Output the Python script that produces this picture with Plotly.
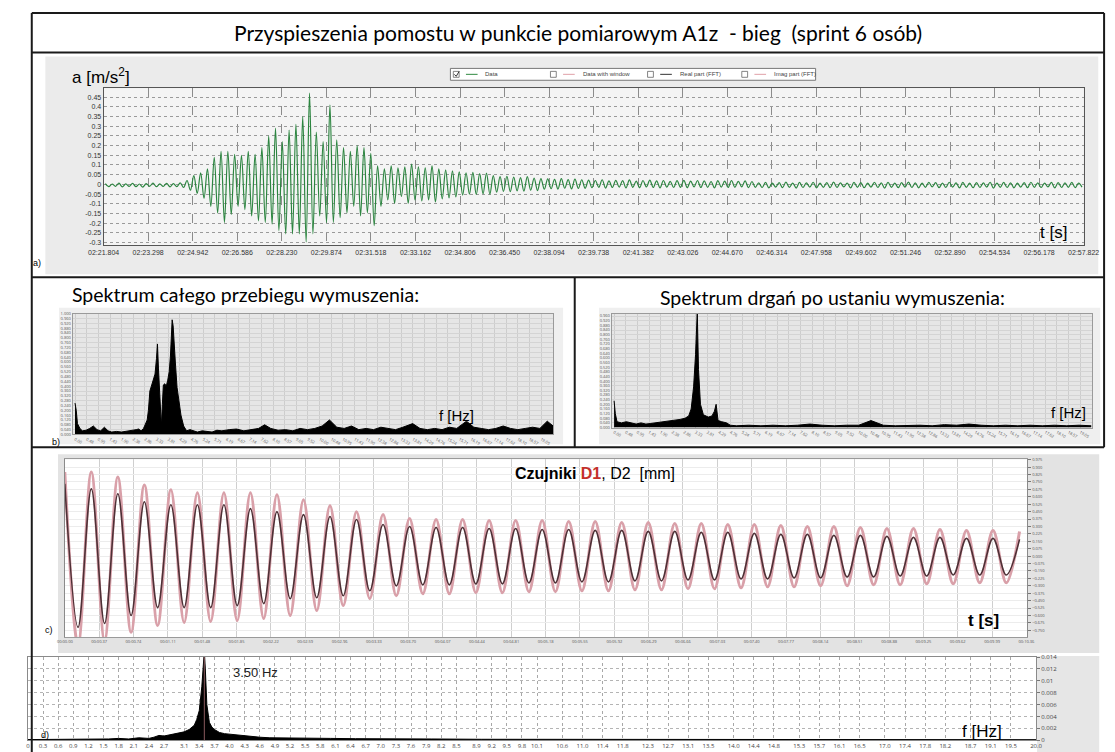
import plotly.graph_objects as go

W, H = 1115, 752
def px(x): return x / W
def py(y): return 1 - y / H

TITLE = "Przyspieszenia pomostu w punkcie pomiarowym A1z  - bieg  (sprint 6 osób)"
TITLE_B1 = "Spektrum całego przebiegu wymuszenia:"
TITLE_B2 = "Spektrum drgań po ustaniu wymuszenia:"

# ---------------- panel a: acceleration (per-cycle extremes)
a_tick_labels = ["02:21.804", "02:23.298", "02:24.942", "02:26.586", "02:28.230", "02:29.874",
                 "02:31.518", "02:33.162", "02:34.806", "02:36.450", "02:38.094", "02:39.738",
                 "02:41.382", "02:43.026", "02:44.670", "02:46.314", "02:47.958", "02:49.602",
                 "02:51.246", "02:52.890", "02:54.534", "02:56.178", "02:57.822"]
a_tick_step = 1.644
a_yticks = [0.45, 0.4, 0.35, 0.3, 0.25, 0.2, 0.15, 0.1, 0.05, 0, -0.05, -0.1, -0.15, -0.2, -0.25, -0.3]
a_ytick_text = ["0.45", "0.4", "0.35", "0.3", "0.25", "0.2", "0.15", "0.1", "0.05", "0",
                "-0.05", "-0.1", "-0.15", "-0.2", "-0.25", "-0.3"]
a_pos = [0.004, 0.002, 0.006, 0.003, 0.005, 0.002, 0.004, 0.006, 0.003, 0.005, 0.004, 0.008, 0.02,
         0.045, 0.06, 0.08, 0.14, 0.17, 0.17, 0.155, 0.15, 0.17, 0.155, 0.19, 0.25, 0.29, 0.22,
         0.28, 0.31, 0.35, 0.47, 0.27, 0.22, 0.41, 0.23, 0.19, 0.17, 0.2, 0.19, 0.16, 0.095, 0.08,
         0.095, 0.085, 0.09, 0.105,
         0.09, 0.085, 0.095, 0.08, 0.075, 0.07, 0.065, 0.06, 0.062, 0.055, 0.058,
         0.045, 0.04, 0.042, 0.038, 0.035, 0.04, 0.032,
         0.03, 0.028, 0.026, 0.03, 0.025, 0.027, 0.024,
         0.022, 0.02, 0.024, 0.018, 0.021, 0.019, 0.023, 0.017, 0.02, 0.022, 0.018, 0.02, 0.016,
         0.019, 0.021, 0.017, 0.02, 0.018, 0.015, 0.019, 0.017, 0.02, 0.016, 0.018, 0.015,
         0.008, 0.01, 0.006, 0.009, 0.012, 0.007, 0.01, 0.008, 0.011, 0.006, 0.009, 0.012,
         0.008, 0.007, 0.01, 0.009, 0.006, 0.011, 0.008, 0.01, 0.007, 0.009, 0.012, 0.008,
         0.006, 0.01, 0.009, 0.007, 0.011, 0.008, 0.01, 0.006, 0.009, 0.008, 0.011, 0.007,
         0.01, 0.008, 0.006, 0.009, 0.011, 0.008, 0.007, 0.01, 0.009, 0.008, 0.01, 0.007]
a_neg = [-0.012, -0.01, -0.013, -0.011, -0.012, -0.014, -0.01, -0.012, -0.011, -0.013, -0.012, -0.016, -0.03,
         -0.047, -0.072, -0.113, -0.147, -0.197, -0.155, -0.113, -0.13, -0.163, -0.188, -0.197,
         -0.205, -0.238, -0.255, -0.255, -0.255, -0.297, -0.255, -0.163, -0.197, -0.197, -0.172,
         -0.147, -0.113, -0.163, -0.147, -0.213, -0.113, -0.08, -0.097, -0.063, -0.097, -0.08,
         -0.085, -0.08, -0.09, -0.075, -0.07, -0.065, -0.055, -0.05, -0.052, -0.048, -0.05,
         -0.04, -0.036, -0.038, -0.033, -0.035, -0.03, -0.032,
         -0.025, -0.022, -0.024, -0.02, -0.023, -0.021, -0.02,
         -0.017, -0.015, -0.019, -0.016, -0.014, -0.018, -0.015, -0.017, -0.013, -0.016, -0.018,
         -0.014, -0.016, -0.015, -0.017, -0.013, -0.016, -0.015, -0.018, -0.014, -0.016, -0.015,
         -0.013, -0.017, -0.015,
         -0.016, -0.018, -0.014, -0.017, -0.015, -0.019, -0.016, -0.014, -0.018, -0.015, -0.017,
         -0.016, -0.013, -0.018, -0.015, -0.017, -0.014, -0.016, -0.019, -0.015, -0.017, -0.014,
         -0.016, -0.018, -0.015, -0.013, -0.017, -0.016, -0.014, -0.018, -0.015, -0.017, -0.016,
         -0.014, -0.019, -0.015, -0.016, -0.018, -0.014, -0.017, -0.015, -0.016, -0.013, -0.018,
         -0.016, -0.015, -0.017, -0.014]

# ---------------- panel b: spectra (relative amplitude)
b_tick_labels = ["0.00", "0.48", "0.95", "1.43", "1.90", "2.38", "2.86", "3.33", "3.81", "4.29",
                 "4.76", "5.24", "5.71", "6.19", "6.67", "7.14", "7.62", "8.10", "8.57", "9.05",
                 "9.52", "10.00", "10.48", "10.95", "11.43", "11.90", "12.38", "12.86", "13.33",
                 "13.81", "14.29", "14.76", "15.24", "15.71", "16.19", "16.67", "17.14", "17.62",
                 "18.10", "18.57", "19.05"]
b1_freq = [0, 0.05, 0.1, 0.2, 0.3, 0.45, 0.6, 0.75, 0.9, 1.05,
           1.2, 1.35, 1.5, 1.7, 1.9, 2.1, 2.3, 2.5, 2.6, 2.7,
           2.8, 2.9, 2.95, 3.0, 3.06, 3.12, 3.17, 3.22, 3.27, 3.33,
           3.37, 3.41, 3.45, 3.5, 3.53, 3.57, 3.61, 3.67, 3.73, 3.79,
           3.85, 3.9, 3.93, 3.97, 4.01, 4.05, 4.1, 4.17, 4.25, 4.33,
           4.44, 4.56, 4.7, 4.85, 5.0, 5.2, 5.4, 5.6, 5.8, 6.0,
           6.3, 6.6, 6.9, 7.2, 7.5, 7.75, 8.0, 8.3, 8.6, 8.9,
           9.2, 9.5, 9.8, 10.1, 10.4, 10.7, 11.0, 11.3, 11.6, 11.9,
           12.2, 12.5, 12.8, 13.1, 13.4, 13.8, 14.1, 14.4, 14.7, 15.0,
           15.3, 15.6, 16.0, 16.3, 16.6, 16.9, 17.2, 17.5, 17.8, 18.1,
           18.4, 18.7, 19.0, 19.3, 19.6]
b1_amp = [0.26, 0.20, 0.09, 0.05, 0.03, 0.035, 0.05, 0.07, 0.04, 0.03,
          0.06, 0.03, 0.02, 0.025, 0.02, 0.025, 0.03, 0.04, 0.045, 0.03,
          0.05, 0.09, 0.12, 0.20, 0.36, 0.40, 0.44, 0.46, 0.50, 0.63,
          0.75, 0.55, 0.40, 0.15, 0.07, 0.25, 0.41, 0.42, 0.40, 0.45,
          0.52, 0.65, 0.76, 0.95, 0.90, 0.80, 0.60, 0.39, 0.25, 0.16,
          0.07, 0.03, 0.04, 0.03, 0.02, 0.03, 0.025, 0.02, 0.035, 0.03,
          0.04, 0.045, 0.03, 0.04, 0.05, 0.08, 0.05, 0.035, 0.04, 0.03,
          0.05, 0.04, 0.05, 0.07, 0.12, 0.06, 0.05, 0.07, 0.04, 0.05,
          0.04, 0.06, 0.05, 0.04, 0.06, 0.09, 0.05, 0.04, 0.05, 0.04,
          0.06, 0.05, 0.11, 0.06, 0.05, 0.04, 0.05, 0.07, 0.05, 0.04,
          0.05, 0.06, 0.05, 0.11, 0.06]
b2_freq = [0, 0.05, 0.12, 0.3, 0.5, 0.7, 0.9, 1.1, 1.3, 1.5,
           1.7, 1.9, 2.1, 2.3, 2.5, 2.7, 2.9, 3.05, 3.15, 3.25,
           3.33, 3.4, 3.45, 3.53, 3.65, 3.85, 4.0, 4.1, 4.17, 4.25,
           4.4, 4.6, 4.75, 5.0, 5.5, 6.0, 6.5, 7.0, 7.5, 8.0,
           8.5, 9.0, 9.5, 10.0, 10.5, 11.0, 11.5, 12.0, 12.5, 13.0,
           13.5, 14.0, 14.5, 15.0, 15.5, 16.0, 16.5, 17.0, 17.5, 18.0,
           18.5, 19.0, 19.5]
b2_amp = [0.23, 0.12, 0.05, 0.04, 0.05, 0.04, 0.03, 0.04, 0.03, 0.035,
          0.04, 0.05, 0.05, 0.06, 0.06, 0.07, 0.08, 0.10, 0.16, 0.35,
          0.63, 1.00, 0.50, 0.20, 0.11, 0.09, 0.10, 0.14, 0.20, 0.06,
          0.05, 0.04, 0.02, 0.015, 0.02, 0.015, 0.02, 0.015, 0.02, 0.03,
          0.02, 0.015, 0.02, 0.02, 0.06, 0.02, 0.015, 0.02, 0.02, 0.015,
          0.025, 0.02, 0.03, 0.02, 0.015, 0.02, 0.015, 0.02, 0.015, 0.02,
          0.015, 0.02, 0.015]

# ---------------- panel c: displacement sensors D1, D2 (peaks / troughs per cycle, mm)
c_freq_hz = 3.5
c_tick_labels = ["00:00.00", "00:00.37", "00:00.74", "00:01.11", "00:01.48", "00:01.85", "00:02.22",
                 "00:02.59", "00:02.96", "00:03.33", "00:03.70", "00:04.07", "00:04.44", "00:04.81",
                 "00:05.18", "00:05.55", "00:05.92", "00:06.29", "00:06.66", "00:07.03", "00:07.40",
                 "00:07.77", "00:08.14", "00:08.51", "00:08.88", "00:09.25", "00:09.62", "00:09.99",
                 "00:10.36"]
c_tick_step = 0.37
d1_pos = [0.85, 0.85, 0.80, 0.72, 0.67, 0.64, 0.64, 0.64, 0.62, 0.57, 0.51, 0.45, 0.42, 0.38,
          0.37, 0.37, 0.36, 0.36, 0.36, 0.35, 0.35, 0.34, 0.34, 0.33, 0.33, 0.32, 0.32, 0.31,
          0.30, 0.30, 0.29, 0.28, 0.28, 0.27, 0.26, 0.26, 0.25]
d1_neg = [-0.90, -0.85, -0.77, -0.70, -0.67, -0.66, -0.65, -0.63, -0.60, -0.55, -0.50, -0.43, -0.40,
          -0.38, -0.38, -0.37, -0.37, -0.36, -0.36, -0.35, -0.35, -0.34, -0.34, -0.33, -0.33,
          -0.32, -0.31, -0.31, -0.30, -0.30, -0.29, -0.29, -0.28, -0.28, -0.27, -0.27]
d2_pos = [0.73, 0.68, 0.63, 0.55, 0.52, 0.52, 0.52, 0.48, 0.45, 0.42, 0.40, 0.37, 0.32, 0.30,
          0.29, 0.29, 0.28, 0.28, 0.27, 0.27, 0.26, 0.26, 0.25, 0.25, 0.24, 0.24, 0.23, 0.22,
          0.22, 0.21, 0.21, 0.20, 0.19, 0.19, 0.18, 0.18, 0.17]
d2_neg = [-0.72, -0.68, -0.60, -0.52, -0.52, -0.52, -0.50, -0.48, -0.43, -0.42, -0.40, -0.35, -0.30,
          -0.29, -0.29, -0.28, -0.28, -0.27, -0.27, -0.26, -0.26, -0.25, -0.25, -0.24, -0.24,
          -0.23, -0.23, -0.22, -0.22, -0.21, -0.21, -0.20, -0.20, -0.19, -0.19, -0.19]

# ---------------- panel d: spectrum of displacement
d_tick_labels = ["0", "0.3", "0.6", "0.9", "1.2", "1.5", "1.8", "2.1", "2.4", "2.7", "3.1", "3.4",
                 "3.7", "4.0", "4.3", "4.6", "4.9", "5.2", "5.5", "5.8", "6.1", "6.4", "6.7", "7.0",
                 "7.3", "7.6", "7.9", "8.2", "8.5", "8.9", "9.2", "9.5", "9.8", "10.1", "10.6", "11.0",
                 "11.4", "11.8", "12.3", "12.7", "13.1", "13.5", "14.0", "14.4", "14.8", "15.3", "15.7",
                 "16.1", "16.5", "17.0", "17.4", "17.8", "18.2", "18.7", "19.1", "19.5", "20.0"]
d_ytick_labels = ["0", "0.002", "0.004", "0.006", "0.008", "0.01", "0.012", "0.014"]
d_freq = [0, 0.2, 0.4, 0.6, 0.8, 1.0, 1.2, 1.4, 1.6, 1.8,
          2.0, 2.2, 2.4, 2.5, 2.6, 2.7, 2.8, 2.9, 3.0, 3.1,
          3.2, 3.3, 3.35, 3.4, 3.45, 3.48, 3.5, 3.52, 3.55, 3.6,
          3.65, 3.7, 3.8, 3.9, 4.0, 4.2, 4.4, 4.6, 4.8, 5.0,
          5.5, 6.0, 6.5, 7.0, 7.5, 8.0, 9.0, 10.0, 11.0, 12.0,
          13.0, 14.0, 15.0, 16.0, 17.0, 18.0, 19.0, 20.0]
d_amp = [0.0001, 0.0001, 0.00015, 0.0002, 0.0001, 0.00015, 0.0002, 0.00015, 0.0002, 0.0003,
         0.0002, 0.0004, 0.0003, 0.0005, 0.0008, 0.0007, 0.0009, 0.0010, 0.0012, 0.0014,
         0.0018, 0.0025, 0.0035, 0.0050, 0.0090, 0.0135, 0.0150, 0.0120, 0.0060, 0.0030,
         0.0022, 0.0018, 0.0013, 0.0011, 0.0010, 0.0008, 0.0007, 0.0005, 0.0004, 0.0004,
         0.0003, 0.0003, 0.00025, 0.0002, 0.00025, 0.0002, 0.00015, 0.00015, 0.0001, 0.0001,
         0.0001, 0.0001, 0.0001, 0.0001, 0.00008, 0.00008, 0.00008, 0.00008]
d_peak_freq = 3.5

# ======================================================================
def interleave(pos, neg):
    out = []
    for i, p in enumerate(pos):
        out.append(p)
        if i < len(neg):
            out.append(neg[i])
    return out

fig = go.Figure()

# panel a trace
a_span = a_tick_step * (len(a_tick_labels) - 1)
a_y = interleave(a_pos, a_neg)
a_dt = a_span / len(a_y)
a_t = [(i + 0.5) * a_dt for i in range(len(a_y))]
fig.add_trace(go.Scatter(x=a_t, y=a_y, mode="lines", xaxis="x", yaxis="y",
                         line=dict(color="#2c8540", width=1.2, shape="spline")))

# panel b traces
fig.add_trace(go.Scatter(x=b1_freq, y=b1_amp, mode="lines", xaxis="x2", yaxis="y2",
                         fill="tozeroy", fillcolor="black", line=dict(color="black", width=1)))
fig.add_trace(go.Scatter(x=b2_freq, y=b2_amp, mode="lines", xaxis="x3", yaxis="y3",
                         fill="tozeroy", fillcolor="black", line=dict(color="black", width=1)))

# panel c traces
c_half = 0.5 / c_freq_hz
c1 = interleave(d1_pos, d1_neg)
c2 = interleave(d2_pos, d2_neg)
fig.add_trace(go.Scatter(x=[i * c_half for i in range(len(c1))], y=c1, mode="lines",
                         xaxis="x4", yaxis="y4",
                         line=dict(color="#d9a0a9", width=3, shape="spline")))
fig.add_trace(go.Scatter(x=[i * c_half for i in range(len(c2))], y=c2, mode="lines",
                         xaxis="x4", yaxis="y4",
                         line=dict(color="#4e3036", width=1.6, shape="spline")))

# panel d trace
fig.add_trace(go.Scatter(x=d_freq, y=d_amp, mode="lines", xaxis="x5", yaxis="y5",
                         fill="tozeroy", fillcolor="black", line=dict(color="black", width=1)))

# ---------------- shapes
shapes = []
def rect(x0, y0, x1, y1, fill="rgba(0,0,0,0)", line=None, lw=1, layer="below"):
    shapes.append(dict(type="rect", xref="paper", yref="paper", x0=px(x0), x1=px(x1),
                       y0=py(y1), y1=py(y0), fillcolor=fill, layer=layer,
                       line=dict(color=line if line else "rgba(0,0,0,0)", width=lw if line else 0)))
def seg(x0, y0, x1, y1, color="#1a1a1a", w=2, layer="above", dash="solid"):
    shapes.append(dict(type="line", xref="paper", yref="paper", x0=px(x0), x1=px(x1),
                       y0=py(y0), y1=py(y1), layer=layer, line=dict(color=color, width=w, dash=dash)))

# backgrounds
rect(22, 45, 1106, 265, fill="#ebebeb")          # panel a outer
rect(82, 77, 1091, 236, fill="#f4f4f4")          # panel a plot
rect(36, 299, 555, 437, fill="#efefef")          # b1 outer
rect(50, 305, 545, 427, fill="#e6e6e6")          # b1 plot
rect(592, 299, 1108, 437, fill="#efefef")        # b2 outer
rect(605, 305, 1100, 420, fill="#e6e6e6")        # b2 plot
rect(35, 447, 1107, 648, fill="#e3e3e3")         # c outer
rect(42, 452, 1033, 632, fill="#ffffff")         # c plot
rect(1043, 651, 1107, 750, fill="#e6e6e6")       # d right
rect(4, 652, 1042, 736, fill="#ffffff")          # d plot

# legend box in panel a
rect(439, 57, 815, 69, fill="#ffffff", line="#777777", lw=1, layer="above")
for cx, col in [(445, "#2f8a40"), (545, "#e0a0a8"), (645, "#333333"), (742, "#e0a0a8")]:
    rect(cx - 3, 60, cx + 3, 66, fill="#ffffff", line="#666666", lw=0.8, layer="above")
    seg(cx + 10, 63, cx + 22, 63, color=col, w=1)
seg(443, 63, 445, 65, color="#333333", w=1)
seg(445, 65, 448, 60, color="#333333", w=1)

# frame lines
seg(8, 1, 1112, 1)
seg(8, 41, 1112, 41)
seg(8, 268, 1112, 268)
seg(8, 440, 1112, 440)
seg(8, 1, 8, 752)
seg(1112, 1, 1112, 440)
seg(567, 268, 567, 440)

# cursor line in panel d
shapes.append(dict(type="line", xref="x5", yref="paper", x0=d_peak_freq, x1=d_peak_freq,
                   y0=py(736), y1=py(652), layer="above", line=dict(color="#8a5a5e", width=1)))

# ---------------- annotations
ann = []
def text(x, y, s, size, family="Liberation Sans", color="black", xanchor="center", yanchor="middle"):
    ann.append(dict(xref="paper", yref="paper", x=px(x), y=py(y), text=s, showarrow=False,
                    font=dict(size=size, family=family, color=color),
                    xanchor=xanchor, yanchor=yanchor))

text(570, 21, TITLE, 21, family="Lato")
text(228, 286, TITLE_B1, 19.5, family="Lato")
text(832, 289, TITLE_B2, 19.5, family="Lato")
text(47, 65, "a [m/s<sup>2</sup>]", 17, xanchor="left")
text(1060, 223, "t [s]", 17)
text(7, 254, "a)", 9, xanchor="left")
text(27, 435, "b)", 9, xanchor="left")
text(20, 625, "c)", 9, xanchor="left")
text(15, 731, "d)", 9, xanchor="left")
text(445, 408, "f [Hz]", 15)
text(1075, 405, "f [Hz]", 15)
text(988, 615, "<b>t [s]</b>", 17)
text(986, 727, "f [Hz]", 17)
text(238, 668, "3.50 Hz", 13, color="#222222")
text(588, 466, "<b>Czujniki </b><b><span style='color:#c4302b'>D1</span></b>, D2  [mm]", 16)
for x0, s in [(473, "Data"), (573, "Data with window"), (673, "Real part (FFT)"), (770, "Imag part (FFT)")]:
    text(x0, 63, s, 6, color="#444444", xanchor="left")

# ---------------- axes
tick_small = dict(size=7, color="#333333", family="Liberation Sans")
lay = dict(
    width=W, height=H, autosize=False, margin=dict(l=0, r=0, t=0, b=0),
    paper_bgcolor="white", plot_bgcolor="rgba(0,0,0,0)", showlegend=False,
    shapes=shapes, annotations=ann,
    xaxis=dict(domain=[px(82), px(1091)], anchor="y", range=[0, a_span],
               tickvals=[i * a_tick_step for i in range(len(a_tick_labels))], ticktext=a_tick_labels,
               showgrid=True, gridcolor="#8c8c8c", griddash="dash", gridwidth=1, zeroline=False,
               showline=True, mirror=True, linecolor="#555555", tickfont=tick_small,
               ticklabeloverflow="allow"),
    yaxis=dict(domain=[py(236), py(77)], anchor="x", range=[-0.315, 0.496],
               tickvals=a_yticks, ticktext=a_ytick_text, showgrid=True, gridcolor="#9a9a9a",
               griddash="dot", zeroline=False, showline=True, mirror=True, linecolor="#555555",
               tickfont=tick_small),
    xaxis2=dict(domain=[px(50), px(545)], anchor="y2", range=[-0.1, 19.55],
                tickvals=[float(s) for s in b_tick_labels], ticktext=b_tick_labels,
                showgrid=True, gridcolor="#cdcdcd", zeroline=False, showline=True, mirror=True,
                linecolor="#9a9a9a", tickfont=dict(size=4, color="#555555")),
    yaxis2=dict(domain=[py(427), py(305)], anchor="x2", range=[0, 1.0], tickmode="linear",
                tick0=0, dtick=0.04, tickformat=".3f", showgrid=True, gridcolor="#d4d4d4",
                zeroline=False, showline=True, mirror=True, linecolor="#9a9a9a",
                tickfont=dict(size=4, color="#555555")),
    xaxis3=dict(domain=[px(605), px(1100)], anchor="y3", range=[-0.1, 19.55],
                tickvals=[float(s) for s in b_tick_labels], ticktext=b_tick_labels,
                showgrid=True, gridcolor="#cdcdcd", zeroline=False, showline=True, mirror=True,
                linecolor="#9a9a9a", tickfont=dict(size=4, color="#555555")),
    yaxis3=dict(domain=[py(420), py(305)], anchor="x3", range=[0, 0.98], tickmode="linear",
                tick0=0, dtick=0.04, tickformat=".3f", showgrid=True, gridcolor="#d4d4d4",
                zeroline=False, showline=True, mirror=True, linecolor="#9a9a9a",
                tickfont=dict(size=4, color="#555555")),
    xaxis4=dict(domain=[px(42), px(1033)], anchor="y4", range=[0, c_tick_step * (len(c_tick_labels) - 1) + 0.01],
                tickvals=[i * c_tick_step for i in range(len(c_tick_labels))], ticktext=c_tick_labels,
                showgrid=True, gridcolor="#cfcfcf", zeroline=False, showline=True, mirror=True,
                linecolor="#9a9a9a", tickfont=dict(size=4, color="#555555")),
    yaxis4=dict(domain=[py(632), py(452)], anchor="x4", side="right", range=[-0.82, 0.98],
                tickmode="linear", tick0=0, dtick=0.075, tickformat=".3f", ticks="outside",
                ticklen=3, tickcolor="#777777", showgrid=True, gridcolor="#ececec", zeroline=False,
                showline=True, mirror=True, linecolor="#8a8a8a", tickfont=dict(size=4, color="#555555")),
    xaxis5=dict(domain=[px(4), px(1042)], anchor="y5", range=[0, 20],
                tickvals=[float(s) for s in d_tick_labels], ticktext=d_tick_labels,
                showgrid=True, gridcolor="#a8a8a8", griddash="dot", zeroline=False, showline=True,
                mirror=True, linecolor="#8a8a8a", tickfont=dict(size=6, color="#444444"),
                ticklabeloverflow="allow"),
    yaxis5=dict(domain=[py(736), py(652)], anchor="x5", side="right", range=[0, 0.014],
                tickvals=[i * 0.002 for i in range(len(d_ytick_labels))], ticktext=d_ytick_labels,
                ticks="outside", ticklen=3, tickcolor="#777777",
                showgrid=True, gridcolor="#b4b4b4", griddash="dot", zeroline=False, showline=True,
                mirror=True, linecolor="#8a8a8a", tickfont=dict(size=6, color="#444444")),
)
fig.update_layout(**lay)
fig.write_html("out.html")
